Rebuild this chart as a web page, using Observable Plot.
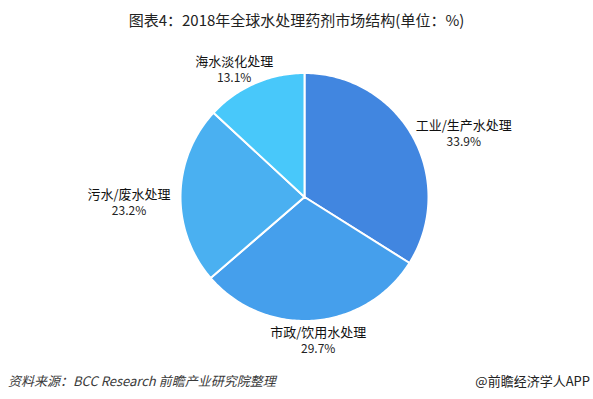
<!DOCTYPE html>
<html>
<head>
<meta charset="utf-8">
<script src="https://cdn.jsdelivr.net/npm/d3@7"></script>
<script src="https://cdn.jsdelivr.net/npm/@observablehq/plot@0.6"></script>
<style>
  html, body { margin: 0; padding: 0; background: #fff; }
  body { width: 593px; height: 399px; overflow: hidden; font-family: "Noto Sans CJK SC", "Noto Sans", sans-serif; }
  #title { height: 38px; line-height: 40px; font-size: 15px; color: #222; text-align: center; white-space: nowrap; }
  #footer { position: relative; height: 36px; font-size: 13px; line-height: 18px; }
  #src { position: absolute; left: 8px; top: 9px; font-style: italic; color: #3a3a3a; }
  #brand { position: absolute; right: 3px; top: 9px; color: #222; }
  svg { display: block; }
</style>
</head>
<body>
<div id="title">图表4：2018年全球水处理药剂市场结构(单位：%)</div>
<div id="chart"></div>
<div id="footer"><span id="src">资料来源：BCC Research 前瞻产业研究院整理</span><span id="brand">@前瞻经济学人APP</span></div>
<script>
const categories = ["工业/生产水处理", "市政/饮用水处理", "污水/废水处理", "海水淡化处理"];
const shares = [33.9, 29.7, 23.2, 13.1];
const colors = ["#4186e0", "#459fec", "#4ab0f1", "#48c8fa"];

const W = 593, H = 325;
const cx = 304, cy = 158.5, R = 124; // pie center & radius in px

const total = d3.sum(shares);
let acc = 0;
const slices = categories.map((name, i) => {
  const a0 = acc / total * 2 * Math.PI;
  acc += shares[i];
  const a1 = acc / total * 2 * Math.PI;
  return {name, value: shares[i], color: colors[i], a0, a1, mid: (a0 + a1) / 2};
});

// polygon outline of each wedge (angle measured clockwise from 12 o'clock)
const wedgePts = [];
for (const s of slices) {
  wedgePts.push({name: s.name, color: s.color, x: 0, y: 0});
  const n = Math.max(2, Math.ceil((s.a1 - s.a0) / (Math.PI / 180)));
  for (let k = 0; k <= n; k++) {
    const a = s.a0 + (s.a1 - s.a0) * k / n;
    wedgePts.push({name: s.name, color: s.color, x: Math.sin(a), y: Math.cos(a)});
  }
}

// label centre: point on the rim at the mid angle, pushed outward by the label's half size
const halfW = d => (d.name.replace(/[^\u4e00-\u9fff]/g, "").length * 13 + 5) / 2;
const lx = d => Math.sin(d.mid) * (1 + (halfW(d) + 10) / R);
const ly = d => {
  const c = Math.cos(d.mid);
  return c * (1 + 18 / R) - (2 + (1 - Math.abs(c)) * 6) / R;
};

const plot = Plot.plot({
  width: W, height: H,
  margin: 0,
  x: {domain: [(0 - cx) / R, (W - cx) / R], range: [0, W], axis: null},
  y: {domain: [(cy - H) / R, cy / R], range: [H, 0], axis: null},
  color: {type: "identity"},
  marks: [
    Plot.line(wedgePts, {
      x: "x", y: "y", z: "name", fill: "color",
      stroke: "#fff", strokeWidth: 2, strokeLinejoin: "round",
      curve: "linear-closed"
    }),
    Plot.text(slices, {
      x: lx, y: ly, text: "name", dy: -8,
      fontSize: 13, fill: "#111", textAnchor: "middle",
      fontFamily: "Noto Sans CJK SC"
    }),
    Plot.text(slices, {
      x: lx, y: ly, text: d => d.value.toFixed(1) + "%", dy: 9,
      fontSize: 12, fill: "#222", textAnchor: "middle",
      fontFamily: "Noto Sans CJK SC"
    })
  ]
});
document.getElementById("chart").appendChild(plot);
</script>
</body>
</html>
